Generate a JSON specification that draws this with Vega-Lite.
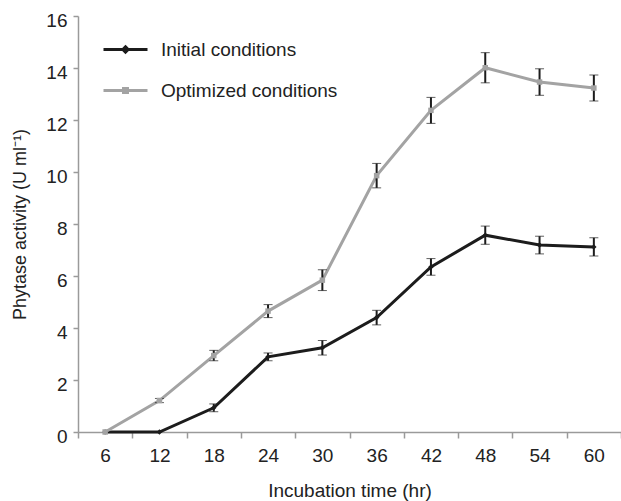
{
  "$schema": "https://vega.github.io/schema/vega-lite/v6.json",
  "autosize": "none",
  "width": 543,
  "height": 416,
  "padding": {"left": 78, "top": 16, "right": 0, "bottom": 69},
  "background": "white",
  "config": {
    "view": {"stroke": null},
    "font": "Liberation Sans, sans-serif"
  },
  "data": {
    "values": [
      {"t": 6, "series": "Initial conditions", "v": 0, "err": 0},
      {"t": 12, "series": "Initial conditions", "v": 0, "err": 0},
      {"t": 18, "series": "Initial conditions", "v": 0.93, "err": 0.15},
      {"t": 24, "series": "Initial conditions", "v": 2.89, "err": 0.15},
      {"t": 30, "series": "Initial conditions", "v": 3.24, "err": 0.28},
      {"t": 36, "series": "Initial conditions", "v": 4.4, "err": 0.28},
      {"t": 42, "series": "Initial conditions", "v": 6.35, "err": 0.32},
      {"t": 48, "series": "Initial conditions", "v": 7.57, "err": 0.35},
      {"t": 54, "series": "Initial conditions", "v": 7.19, "err": 0.34},
      {"t": 60, "series": "Initial conditions", "v": 7.12, "err": 0.35},
      {"t": 6, "series": "Optimized conditions", "v": 0, "err": 0},
      {"t": 12, "series": "Optimized conditions", "v": 1.21, "err": 0.08},
      {"t": 18, "series": "Optimized conditions", "v": 2.94, "err": 0.2},
      {"t": 24, "series": "Optimized conditions", "v": 4.65, "err": 0.25},
      {"t": 30, "series": "Optimized conditions", "v": 5.84, "err": 0.4},
      {"t": 36, "series": "Optimized conditions", "v": 9.86, "err": 0.47},
      {"t": 42, "series": "Optimized conditions", "v": 12.37, "err": 0.5},
      {"t": 48, "series": "Optimized conditions", "v": 14.01, "err": 0.58},
      {"t": 54, "series": "Optimized conditions", "v": 13.46, "err": 0.51},
      {"t": 60, "series": "Optimized conditions", "v": 13.23, "err": 0.5}
    ]
  },
  "encoding": {
    "x": {
      "field": "t",
      "type": "quantitative",
      "scale": {"domain": [3, 63], "nice": false, "zero": false},
      "axis": {
        "title": "Incubation time (hr)",
        "values": [3, 6, 9, 12, 15, 18, 21, 24, 27, 30, 33, 36, 39, 42, 45, 48, 51, 54, 57, 60, 63],
        "labelExpr": "datum.value % 6 == 0 ? datum.label : ''",
        "tickOpacity": {"condition": {"test": "datum.value % 6 == 0", "value": 0}, "value": 1},
        "grid": false,
        "domainColor": "#9a9a9a",
        "domainWidth": 1.5,
        "tickColor": "#9a9a9a",
        "tickWidth": 1.5,
        "tickSize": 6,
        "labelFontSize": 19,
        "labelColor": "#222",
        "labelPadding": 8,
        "labelFlush": false,
        "labelOverlap": false,
        "titleFontSize": 19,
        "titleFontWeight": "normal",
        "titleColor": "#222",
        "titlePadding": 16
      }
    },
    "y": {
      "field": "v",
      "type": "quantitative",
      "scale": {"domain": [0, 16], "nice": false},
      "axis": {
        "title": "Phytase activity (U ml⁻¹)",
        "values": [0, 2, 4, 6, 8, 10, 12, 14, 16],
        "grid": false,
        "domainColor": "#9a9a9a",
        "domainWidth": 1.5,
        "tickColor": "#9a9a9a",
        "tickWidth": 1.5,
        "tickSize": 5,
        "labelFontSize": 19,
        "labelColor": "#222",
        "labelPadding": 6,
        "labelOffset": 4,
        "titleFontSize": 18,
        "titleFontWeight": "normal",
        "titleColor": "#222",
        "titlePadding": 16
      }
    }
  },
  "layer": [
    {
      "mark": {"type": "point", "filled": false, "opacity": 0, "strokeWidth": 3},
      "encoding": {
        "color": {
          "field": "series",
          "type": "nominal",
          "scale": {"domain": ["Initial conditions", "Optimized conditions"], "range": ["#1c1c1c", "#a3a3a3"]},
          "legend": {
            "title": null,
            "orient": "none",
            "legendX": 24,
            "legendY": 10,
            "symbolSize": 1936,
            "symbolStrokeWidth": 3,
            "symbolOpacity": 1,
            "labelFontSize": 19,
            "labelColor": "#222",
            "labelOffset": 12,
            "labelLimit": 400,
            "rowPadding": 7
          }
        },
        "shape": {
          "field": "series",
          "type": "nominal",
          "scale": {"domain": ["Initial conditions", "Optimized conditions"], "range": ["M-1,0H1M0,-0.12L0.12,0L0,0.12L-0.12,0Z", "M-1,0H1M-0.09,-0.09H0.09V0.09H-0.09Z"]},
          "legend": {
            "title": null,
            "orient": "none",
            "legendX": 24,
            "legendY": 10,
            "symbolSize": 1936,
            "symbolStrokeWidth": 3,
            "symbolOpacity": 1,
            "labelFontSize": 19,
            "labelColor": "#222",
            "labelOffset": 12,
            "labelLimit": 400,
            "rowPadding": 7
          }
        }
      }
    },
    {
      "transform": [{"filter": "datum.series == 'Initial conditions'"}],
      "mark": {"type": "line", "strokeWidth": 3, "color": "#1c1c1c"}
    },
    {
      "transform": [{"filter": "datum.series == 'Optimized conditions'"}],
      "mark": {"type": "line", "strokeWidth": 3, "color": "#a3a3a3"}
    },
    {
      "transform": [{"filter": "datum.err > 0"}],
      "mark": {"type": "errorbar", "ticks": {"size": 9, "strokeWidth": 2, "color": "#1c1c1c"}, "rule": {"strokeWidth": 2, "color": "#1c1c1c"}},
      "encoding": {
        "yError": {"field": "err"}
      }
    },
    {
      "transform": [{"filter": "datum.series == 'Initial conditions'"}],
      "mark": {"type": "point", "filled": true, "size": 30, "shape": "diamond", "color": "#1c1c1c", "opacity": 1}
    },
    {
      "transform": [{"filter": "datum.series == 'Optimized conditions'"}],
      "mark": {"type": "point", "filled": true, "size": 30, "shape": "square", "color": "#a3a3a3", "opacity": 1}
    }
  ]
}
